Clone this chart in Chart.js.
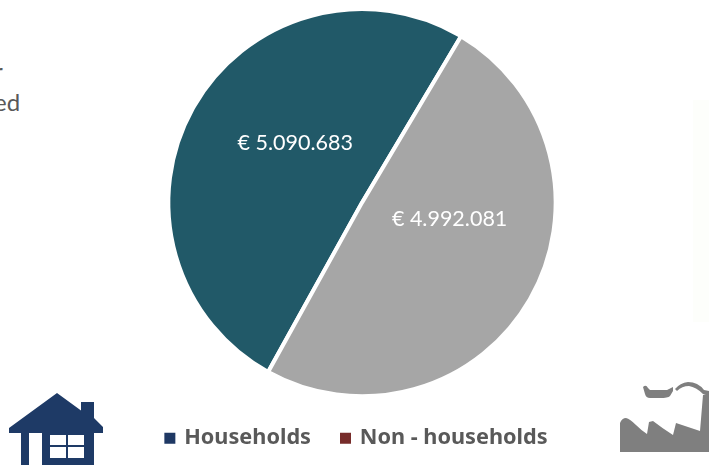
<!DOCTYPE html>
<html><head><meta charset="utf-8">
<style>
html,body{margin:0;padding:0;background:#fff;width:709px;height:465px;overflow:hidden}
#wrap{position:relative;width:709px;height:465px}
canvas{position:absolute;left:0;top:0}
.t{position:absolute;font-family:Lato,sans-serif;font-size:24px;color:#595959;line-height:28px}
svg{position:absolute;left:0;top:0}
</style></head><body>
<div id="wrap">
<div style="position:absolute;left:693px;top:100px;width:16px;height:222px;background:#fdfefb"></div>
<div class="t" style="left:-6px;top:57px">r</div>
<div class="t" style="left:-6px;top:88px">ed</div>
<canvas id="c" width="709" height="465"></canvas>
<svg width="709" height="465" viewBox="0 0 709 465">
<path fill="#1e3a66" fill-rule="evenodd" d="M57 393 L81 410.5 L81 402 L94 402 L94 418 L103 427 L103 433 L94 433 L94 465 L42 465 L42 433 L29 433 L29 465 L21 465 L21 433 L9 433 L9 428 Z M50 435 L50 445 L66 445 L66 435 Z M68 435 L68 445 L84 445 L84 435 Z M50 447 L50 458 L66 458 L66 447 Z M68 447 L68 458 L84 458 L84 447 Z"/>
<path fill="#7f7f7f" d="M620 452 L620 423 Q622 418 626 418 Q630 419 636 425 Q642 431 647 434 L649 422 L653 421 Q662 428 673 435 L676 423 Q688 427 700 431 L703 395 L709 393 L709 452 Z"/>
<path fill="#7f7f7f" d="M643 387 Q646 384 648 388 L650 390 L667 390 L673 387 L673 391 L670 396 Q668 398 660 398 L650 398 Q646 398 645 394 Z"/>
<path fill="#7f7f7f" d="M675 389 Q680 383 688 382 Q698 382 704 390 L709 391 L709 395 L703 394 Q696 387 689 386 Q682 386 677 391 Z"/>
</svg>
</div>
<script src="https://cdn.jsdelivr.net/npm/chart.js@4"></script>
<script>
const categories = ["Households", "Non - households"];
const seriesValues = [5090683, 4992081];
const sliceColors = ["#215968", "#a6a6a6"];
const legendColors = ["#1f3864", "#772c2a"];
const valueLabels = ["€ 5.090.683", "€ 4.992.081"];
// label placement: [angle from arc's mid-angle in radians, distance as share of radius]
const labelPlacement = [[0.21, 0.463], [-0.34, 0.46]];

const pieLabels = {
  id: "pieLabels",
  afterLayout(chart) {
    const l = chart.legend;
    l.left -= 5; l.right -= 5; l.top -= 2; l.bottom -= 2;
  },
  afterDatasetsDraw(chart) {
    const { ctx } = chart;
    chart.getDatasetMeta(0).data.forEach((arc, i) => {
      const mid = (arc.startAngle + arc.endAngle) / 2 + labelPlacement[i][0];
      const r = arc.outerRadius * labelPlacement[i][1];
      ctx.save();
      ctx.font = "21.5px Lato, sans-serif";
      ctx.fillStyle = "#ffffff";
      ctx.textAlign = "center";
      ctx.textBaseline = "middle";
      ctx.fillText(valueLabels[i], arc.x + Math.cos(mid) * r, arc.y + Math.sin(mid) * r);
      ctx.restore();
    });
  }
};

new Chart(document.getElementById("c"), {
  type: "pie",
  plugins: [pieLabels],
  data: {
    labels: categories,
    datasets: [{
      data: seriesValues,
      backgroundColor: sliceColors,
      borderColor: "#ffffff",
      borderWidth: 4,
      hoverOffset: 0
    }]
  },
  options: {
    responsive: false,
    animation: false,
    rotation: 209,
    layout: { padding: { top: 7, bottom: 4, left: 15, right: 0 } },
    plugins: {
      tooltip: { enabled: false },
      legend: {
        position: "bottom",
        labels: {
          boxWidth: 7,
          boxHeight: 7,
          padding: 31,
          color: "#595959",
          font: { family: "'Noto Sans'", size: 21.7, weight: "bold" },
          generateLabels: () => categories.map((text, i) => ({
            text, fillStyle: legendColors[i], strokeStyle: legendColors[i], lineWidth: 4, index: i, fontColor: "#595959"
          }))
        }
      }
    }
  }
});
</script>
</body></html>
